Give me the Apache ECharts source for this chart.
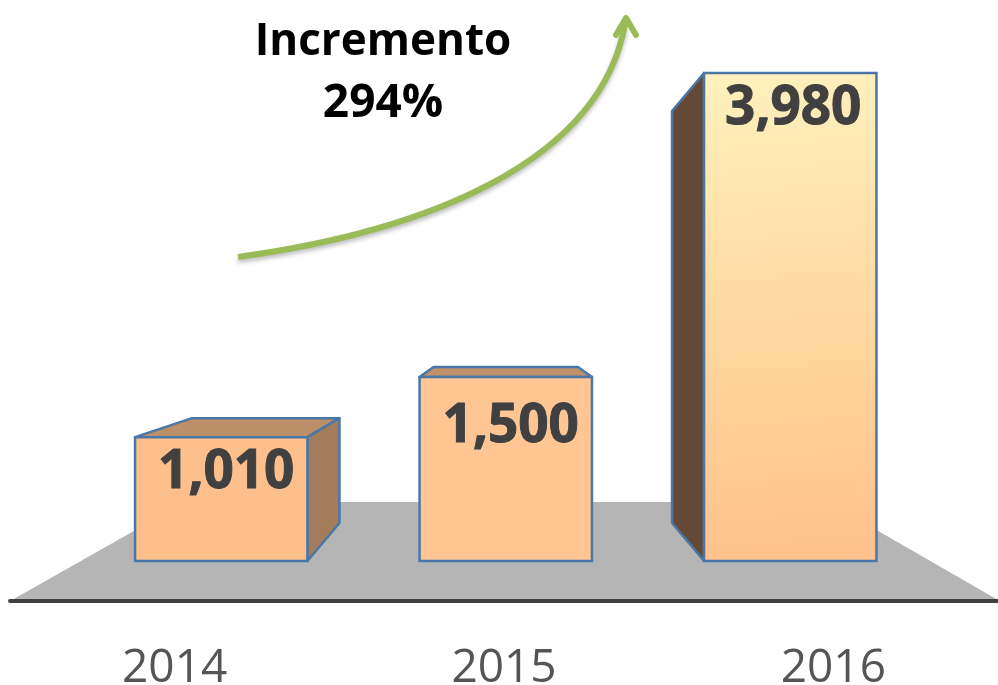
<!DOCTYPE html>
<html>
<head>
<meta charset="utf-8">
<style>html,body{margin:0;padding:0;background:#fff}#c{width:998px;height:685px}</style>
<script src="https://cdn.jsdelivr.net/npm/echarts@6/dist/echarts.min.js"></script>
</head>
<body>
<div id="c"></div>
<script>
var years = ['2014', '2015', '2016'];
var values = [1010, 1500, 3980];
var valueLabels = ['1,010', '1,500', '3,980'];
var headline = ['Incremento', '294%'];

var chart = echarts.init(document.getElementById('c'), null, { renderer: 'canvas' });
var edge = '#4A77A8';

function poly(points, fill, z2) {
  return {
    type: 'polygon', z2: z2 || 1,
    shape: { points: points },
    style: { fill: fill, stroke: edge, lineWidth: 2.5, lineJoin: 'round' }
  };
}
function frontFill(i) {
  if (i === 2) {
    return new echarts.graphic.LinearGradient(0, 0, 0.25, 1, [
      { offset: 0, color: '#FFF1BE' },
      { offset: 0.3, color: '#FFE3AB' },
      { offset: 0.65, color: '#FFD29B' },
      { offset: 1, color: '#FFC18E' }
    ]);
  }
  return i === 1 ? '#FFC592' : '#FDC08C';
}
function renderBar(params, api) {
  var i = api.value(0);
  var base = api.coord([i, 0]);
  var top = api.coord([i, api.value(1)]);
  var w = api.size([1, 0])[0] * 0.606;
  var L = base[0] - w / 2, R = base[0] + w / 2, T = top[1], B = base[1];
  var kids = [];
  var labelDy = 36, labelDx = 5;
  if (i === 0) {
    kids.push(poly([[L, T], [L + 57, T - 19], [R + 32, T - 19], [R, T]], '#BB9068'));
    kids.push(poly([[R, T], [R + 32, T - 19], [R + 32, B - 38], [R, B]], '#A27C5B'));
  } else if (i === 1) {
    kids.push(poly([[L, T], [L + 14, T - 10], [R - 14, T - 10], [R, T]], '#BF916A'));
    labelDy = 50;
  } else {
    kids.push(poly([[L, T], [L - 32, T + 38], [L - 32, B - 38], [L, B]], '#644A36'));
    labelDx = 3;
  }
  kids.push({
    type: 'rect', z2: 2,
    shape: { x: L, y: T, width: w, height: B - T },
    style: { fill: frontFill(i), stroke: edge, lineWidth: 2.5 }
  });
  kids.push({
    type: 'text', z2: 3,
    style: {
      x: base[0] + labelDx, y: T + labelDy,
      text: valueLabels[i], align: 'center', verticalAlign: 'middle',
      font: '700 53px "Open Sans"', fill: '#404040', stroke: '#404040', lineWidth: 1
    }
  });
  return { type: 'group', children: kids };
}

chart.setOption({
  animation: false,
  grid: [
    { left: 79, width: 853.5, top: 73, height: 488, outerBoundsMode: 'none' },
    { left: 10, width: 988, top: 581, height: 20, outerBoundsMode: 'none' }
  ],
  xAxis: [
    { gridIndex: 0, type: 'category', data: years, show: false },
    {
      gridIndex: 1, type: 'category', data: years,
      axisLine: { show: true, lineStyle: { color: '#404040', width: 4 } },
      axisTick: { show: false },
      axisLabel: {
        margin: 45, fontSize: 46, color: '#555555',
        fontFamily: 'Open Sans', interval: 0, hideOverlap: false
      }
    }
  ],
  yAxis: [
    { gridIndex: 0, type: 'value', min: 0, max: 3980, show: false },
    { gridIndex: 1, type: 'value', min: 0, max: 1, show: false }
  ],
  series: [{
    type: 'custom', xAxisIndex: 0, yAxisIndex: 0, z: 5, clip: false,
    renderItem: renderBar,
    encode: { x: 0, y: 1 },
    data: values.map(function (v, i) { return [i, v]; })
  }],
  graphic: [
    {
      type: 'polygon', z: -1, silent: true,
      shape: { points: [[12, 600], [185, 502], [828, 502], [998, 600]] },
      style: { fill: '#B5B5B5' }
    },
    {
      type: 'text', z: 10, x: 383, y: 42,
      style: { text: headline[0], align: 'center', verticalAlign: 'middle', font: '700 44px "Open Sans"', fill: '#000' }
    },
    {
      type: 'text', z: 10, x: 383, y: 104,
      style: { text: headline[1], align: 'center', verticalAlign: 'middle', font: '700 46px "Open Sans"', fill: '#000' }
    },
    {
      type: 'bezierCurve', z: 10, silent: true,
      shape: { x1: 238, y1: 257, cpx1: 420, cpy1: 232, cpx2: 600, cpy2: 165, x2: 625, y2: 24 },
      style: { fill: 'none', stroke: '#9BBB59', lineWidth: 6, shadowColor: 'rgba(0,0,0,0.25)', shadowBlur: 4, shadowOffsetY: 3 }
    },
    {
      type: 'polyline', z: 10, silent: true,
      shape: { points: [[616, 35], [626, 18], [636, 35]] },
      style: { fill: 'none', stroke: '#9BBB59', lineWidth: 6, lineCap: 'round', lineJoin: 'round' }
    }
  ]
});
</script>
</body>
</html>
